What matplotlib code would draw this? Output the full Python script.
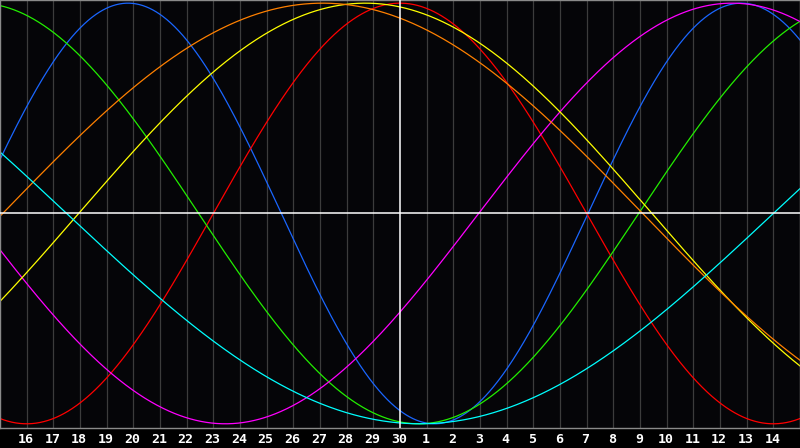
import numpy as np
import matplotlib.pyplot as plt

# biorhythm chart: 30 days shown, "today" (day 30) in the middle
DAY_LABELS = [str(d) for d in list(range(16, 31)) + list(range(1, 15))]
TODAY = 15  # index of day 30 in the day axis

# cycles: period in days and position of the peak on the day axis
NAMES = ['physical', 'emotional', 'intellectual', 'intuitive', 'aesthetic', 'awareness', 'spiritual']
PERIODS = [23, 28, 33, 38, 43, 48, 53]
PEAKS = [4.8, 15.0, -0.8, 27.45, 13.7, 12.1, -10.75]
COLORS = ['#1a66ff', '#ff0000', '#22ee00', '#ff00ff', '#ffff00', '#ff8000', '#00ffff']

fig = plt.figure(figsize=(8, 4.48), dpi=100, facecolor='#000000')
ax = fig.add_axes([0, 20 / 448, 1, 428 / 448])
ax.set_facecolor('#050508')

days = np.linspace(0, 30, 1200)
for name, period, peak, color in zip(NAMES, PERIODS, PEAKS, COLORS):
    ax.plot(days, np.cos(2 * np.pi * (days - peak) / period), color=color, lw=0.9, label=name)

# day grid
for i in range(1, 30):
    if i == TODAY:
        continue
    ax.axvline(i, color='#3c3c3c', lw=0.9, zorder=0)
ax.axvline(TODAY, color='white', lw=1.1, zorder=3)
ax.axhline(0, color='white', lw=1.1, zorder=3)

ax.set_xlim(0, 30)
ax.set_ylim(-1.02, 1.015)
ax.set_xticks([])
ax.set_yticks([])
for s in ax.spines.values():
    s.set_color('#8a8a8a')
    s.set_linewidth(1.0)

for i, lab in enumerate(DAY_LABELS):
    ax.text(i + 1 - 0.04, -1.02 - 0.055, lab, color='white', fontsize=9.5, fontweight='bold',
            family='DejaVu Sans Mono', ha='center', va='center', clip_on=False)

fig.savefig('out.png', dpi=100, facecolor=fig.get_facecolor())
